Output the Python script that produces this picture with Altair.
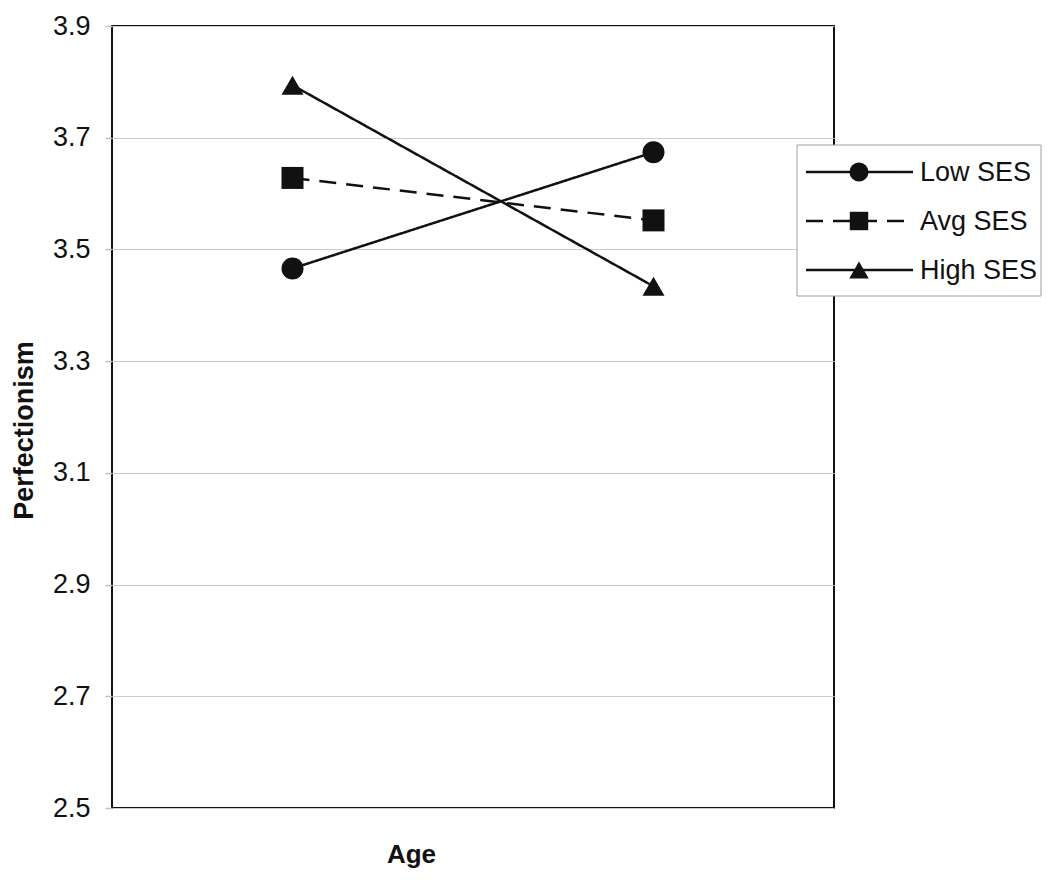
import altair as alt
import pandas as pd

ages = ["Younger", "Older"]
series = ["Low SES", "Avg SES", "High SES"]
low_ses = [3.466, 3.674]
avg_ses = [3.628, 3.552]
high_ses = [3.794, 3.434]
y_ticks = [2.5, 2.7, 2.9, 3.1, 3.3, 3.5, 3.7, 3.9]

rows = []
for s, vals in zip(series, [low_ses, avg_ses, high_ses]):
    for a, v in zip(ages, vals):
        rows.append({"series": s, "age": a, "value": v})
df = pd.DataFrame(rows)
legend_df = pd.DataFrame({"series": series})

FONT = "Liberation Sans"
INK = "#111111"
shapes = ["circle", "square", "triangle-up"]
dashes = [[1, 0], [17, 10], [1, 0]]
sizes = [484, 484, 520]
legend_sizes = [361, 340, 380]

W, H = 722, 782

x_enc = alt.X(
    "age:N", sort=ages,
    scale=alt.Scale(type="point", padding=0.5),
    axis=alt.Axis(title="Age", labels=False, ticks=False, domain=False, grid=False,
                  titleFont=FONT, titleFontSize=26, titleFontWeight="bold", titleColor=INK,
                  titleX=299, titleY=54, titleBaseline="alphabetic", titleAlign="center"),
)
y_enc = alt.Y(
    "value:Q",
    scale=alt.Scale(domain=[2.5, 3.9], nice=False, zero=False),
    axis=alt.Axis(values=y_ticks, format=".1f", title="Perfectionism", domain=False,
                  labelFont=FONT, labelFontSize=27, labelColor=INK, labelPadding=15,
                  tickColor="#c0c0c0", tickSize=7, tickWidth=1.5,
                  grid=True, gridColor="#cccccc", gridWidth=1,
                  titleFont=FONT, titleFontSize=27, titleFontWeight="bold", titleColor=INK,
                  titleX=-88, titleY=404, titleAngle=-90, titleAlign="center",
                  titleBaseline="middle"),
)

base = alt.Chart(df)
lines = base.mark_line(color=INK, strokeWidth=2.5).encode(
    x=x_enc, y=y_enc,
    strokeDash=alt.StrokeDash("series:N", scale=alt.Scale(domain=series, range=dashes), legend=None),
)
points = base.mark_point(filled=True, color=INK, opacity=1).encode(
    x=x_enc, y=y_enc,
    shape=alt.Shape("series:N", scale=alt.Scale(domain=series, range=shapes), legend=None),
    size=alt.Size("series:N", scale=alt.Scale(domain=series, range=sizes), legend=None),
)

layers = [lines, points]

# legend box
layers.append(
    alt.Chart(legend_df).transform_filter(alt.datum.series == series[0])
    .mark_rect(fill="white", stroke="#a0a0a0", strokeWidth=1)
    .encode(x=alt.value(685), x2=alt.value(929), y=alt.value(119), y2=alt.value(270))
)
row_y = [146, 195, 244]
for name, ly, shp, dsh, sz in zip(series, row_y, shapes, dashes, legend_sizes):
    item = alt.Chart(legend_df).transform_filter(alt.datum.series == name)
    layers.append(item.mark_rule(color=INK, strokeWidth=2.5, strokeDash=dsh).encode(
        x=alt.value(694), x2=alt.value(801), y=alt.value(ly)))
    layers.append(item.mark_point(shape=shp, filled=True, color=INK, opacity=1, size=sz).encode(
        x=alt.value(747), y=alt.value(ly)))
    layers.append(item.mark_text(align="left", baseline="middle", font=FONT, fontSize=27, color=INK).encode(
        x=alt.value(808), y=alt.value(ly + 1), text="series:N"))

chart = alt.layer(*layers).properties(
    width=W, height=H,
    autosize=alt.AutoSizeParams(type="none"),
    padding={"left": 104, "top": 18, "right": 208, "bottom": 62},
    background="white",
).configure_view(stroke=INK, strokeWidth=2)

chart.save("out.html", embed_options={"renderer": "svg", "actions": False})
